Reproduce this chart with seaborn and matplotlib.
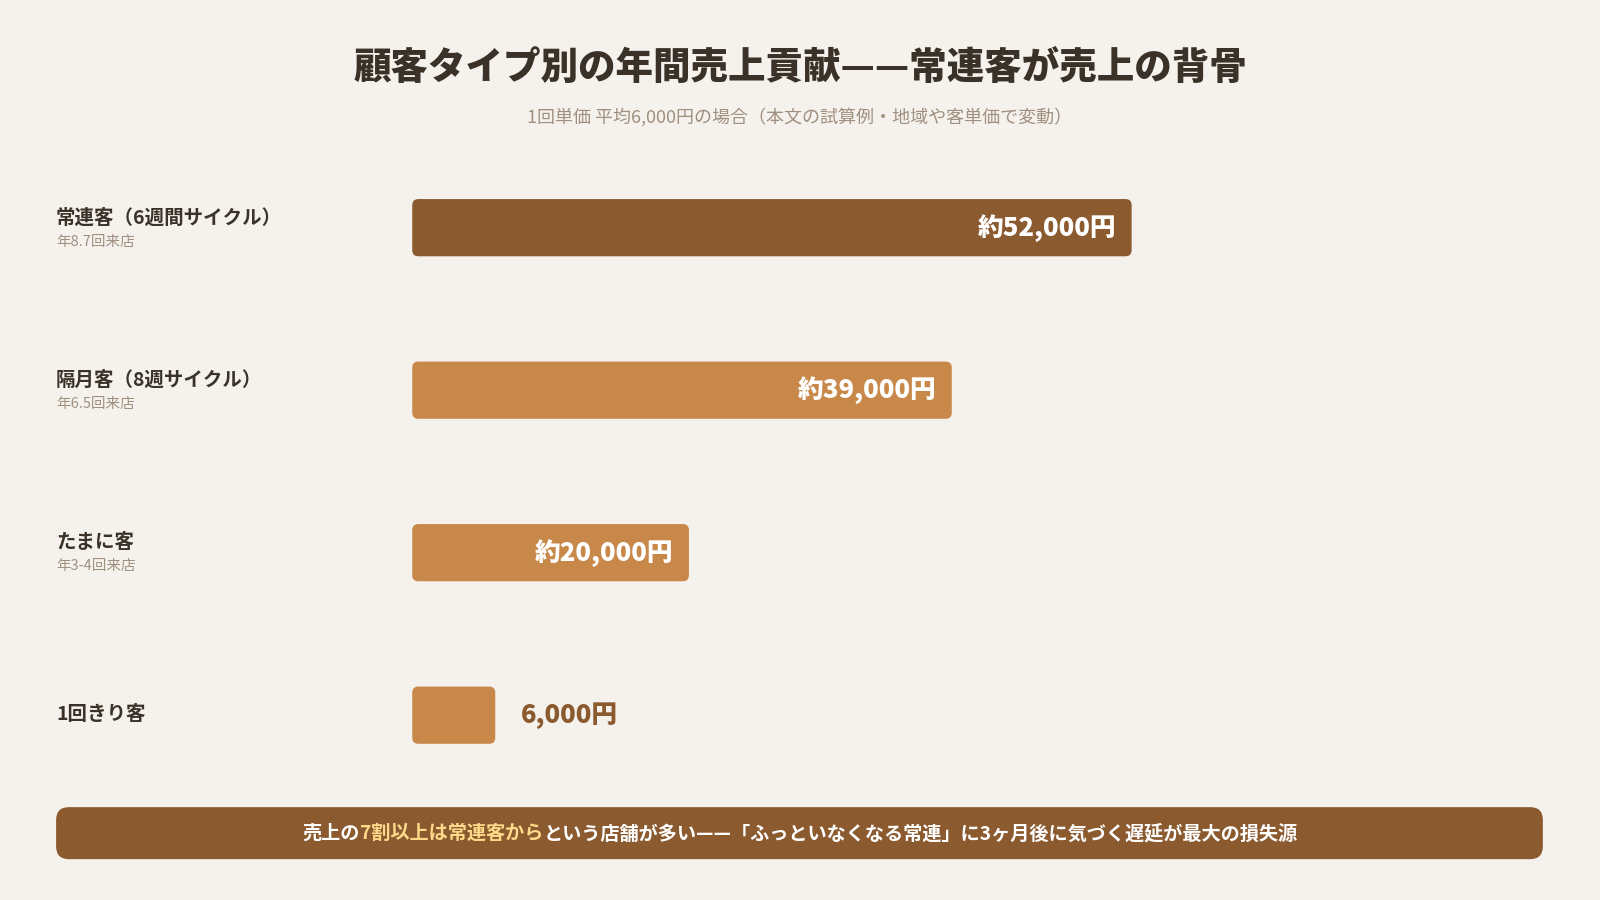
import matplotlib
matplotlib.use("Agg")
import matplotlib.pyplot as plt
import seaborn as sns
import pandas as pd
from matplotlib.patches import FancyBboxPatch

categories = ["常連客（6週間サイクル）", "隔月客（8週サイクル）", "たまに客", "1回きり客"]
sublabels = ["年8.7回来店", "年6.5回来店", "年3-4回来店", ""]
values = [52000, 39000, 20000, 6000]
value_labels = ["約52,000円", "約39,000円", "約20,000円", "6,000円"]
colors = ["#8B5A2F", "#C8884A", "#C8884A", "#C8884A"]

sns.set_theme(style="white")
plt.rcParams["font.family"] = ["Noto Sans CJK JP", "DejaVu Sans"]
bg = "#F5F2ED"
W, H = 1568, 882
fig = plt.figure(figsize=(16, 9), dpi=100, facecolor=bg)

def fx(px): return px / W
def fy(py): return 1 - py / H

# axes: x 0..60000 mapped from px 404; 52000 -> 1109
ppk = (1109 - 404) / 52000  # px per unit
ax_left, ax_right = 404, 404 + 60000 * ppk
ax_top, ax_bot = 223 - 159 * 0.5, 701 + 159 * 0.5
ax = fig.add_axes([fx(ax_left), fy(ax_bot), fx(ax_right - ax_left), (ax_bot - ax_top) / H])
ax.set_facecolor(bg)
df = pd.DataFrame({"cat": categories, "val": values})
sns.barplot(data=df, x="val", y="cat", hue="cat", palette=colors, width=56 / 159,
            legend=False, ax=ax, orient="h")
ax.set_xlim(0, 60000)
ax.set_ylim(3.5, -0.5)
asp = (1 / 159) / (1 / ppk)
for p, c in zip(list(ax.patches), colors):
    x0, y0, w, h = p.get_x(), p.get_y(), p.get_width(), p.get_height()
    p.remove()
    ax.add_patch(FancyBboxPatch((x0, y0), w, h, boxstyle=f"round,pad=0,rounding_size={6 / ppk}",
                                mutation_aspect=asp, facecolor=c, edgecolor="none"))
for i, (v, lab) in enumerate(zip(values, value_labels)):
    if v > 10000:
        ax.text(v - 15 / ppk, i, lab, ha="right", va="center", color="white",
                fontsize=18.5, fontweight="black")
    else:
        ax.text(v + 25 / ppk, i, lab, ha="left", va="center", color="#8B5A2F",
                fontsize=18.5, fontweight="black")
ax.axis("off")

# left labels
for i, (cat, sub) in enumerate(zip(categories, sublabels)):
    yc = 223 + 159 * i
    if sub:
        fig.text(fx(55), fy(yc - 9), cat, ha="left", va="center", fontsize=14,
                 fontweight="bold", color="#3A3228")
        fig.text(fx(55), fy(yc + 14), sub, ha="left", va="center", fontsize=10.5, color="#A09080")
    else:
        fig.text(fx(55), fy(yc), cat, ha="left", va="center", fontsize=14,
                 fontweight="bold", color="#3A3228")

fig.text(0.5, fy(67), "顧客タイプ別の年間売上貢献——常連客が売上の背骨", ha="center", va="center",
         fontsize=27, fontweight="black", color="#3A3228")
fig.text(0.5, fy(115), "1回単価 平均6,000円の場合（本文の試算例・地域や客単価で変動）", ha="center",
         va="center", fontsize=13, color="#A09080")

# footer
fig.patches.append(FancyBboxPatch((fx(55), fy(842)), fx(1512 - 55), (842 - 791) / H,
                                  boxstyle="round,pad=0,rounding_size=0.008",
                                  mutation_aspect=W / H, transform=fig.transFigure,
                                  facecolor="#8B5A2F", edgecolor="none"))
parts = [("売上の", "white"), ("7割以上は常連客から", "#FFD98A"),
         ("という店舗が多い——「ふっといなくなる常連」に3ヶ月後に気づく遅延が最大の損失源", "white")]
fig.canvas.draw()
r = fig.canvas.get_renderer()
texts = []
for s, c in parts:
    t = fig.text(0, fy(817), s, ha="left", va="center", fontsize=13.8, fontweight="bold", color=c)
    texts.append(t)
widths = [t.get_window_extent(r).width for t in texts]
total = sum(widths)
x = (fig.bbox.width - total) / 2
for t, w in zip(texts, widths):
    t.set_x(x / fig.bbox.width)
    x += w

fig.savefig("out.png", dpi=100, facecolor=bg)
